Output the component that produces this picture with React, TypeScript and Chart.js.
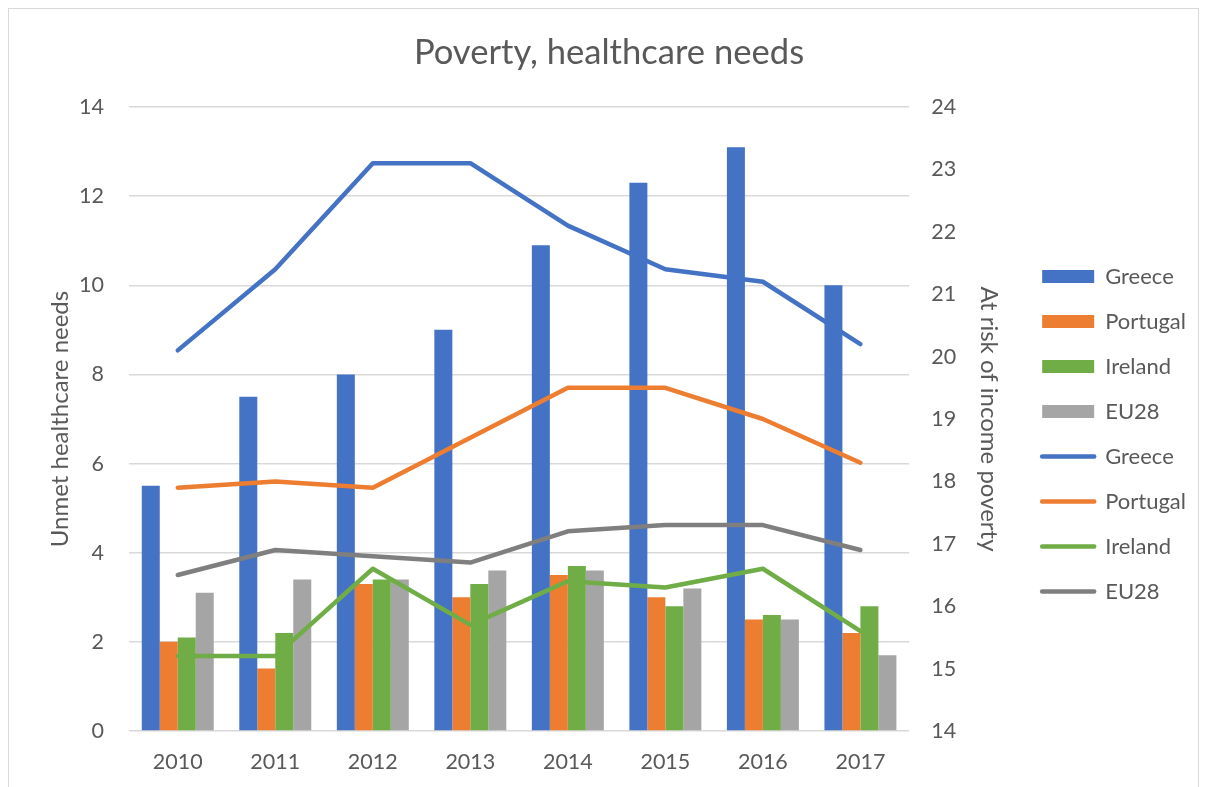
import React, { useEffect, useRef } from 'react';
import { Chart, registerables } from 'chart.js';

Chart.register(...registerables);

const years = ['2010', '2011', '2012', '2013', '2014', '2015', '2016', '2017'];

// Unmet healthcare needs (left axis, bars)
const greeceUnmet = [5.5, 7.5, 8.0, 9.0, 10.9, 12.3, 13.1, 10.0];
const portugalUnmet = [2.0, 1.4, 3.3, 3.0, 3.5, 3.0, 2.5, 2.2];
const irelandUnmet = [2.1, 2.2, 3.4, 3.3, 3.7, 2.8, 2.6, 2.8];
const eu28Unmet = [3.1, 3.4, 3.4, 3.6, 3.6, 3.2, 2.5, 1.7];

// At risk of income poverty (right axis, lines)
const greecePoverty = [20.1, 21.4, 23.1, 23.1, 22.1, 21.4, 21.2, 20.2];
const portugalPoverty = [17.9, 18.0, 17.9, 18.7, 19.5, 19.5, 19.0, 18.3];
const irelandPoverty = [15.2, 15.2, 16.6, 15.7, 16.4, 16.3, 16.6, 15.6];
const eu28Poverty = [16.5, 16.9, 16.8, 16.7, 17.2, 17.3, 17.3, 16.9];

const C_BLUE = '#4472C4';
const C_ORANGE = '#ED7D31';
const C_GREEN = '#70AD47';
const C_GRAYBAR = '#A5A5A5';
const C_GRAYLINE = '#7F7F7F';
const TEXT = '#595959';
const GRID = '#D9D9D9';

export default function App() {
  const canvasRef = useRef<HTMLCanvasElement | null>(null);

  useEffect(() => {
    if (!canvasRef.current) return;
    Chart.defaults.font.family = 'Lato';
    Chart.defaults.color = TEXT;

    const bar = (label: string, data: number[], color: string) => ({
      type: 'bar' as const,
      label,
      data,
      backgroundColor: color,
      borderColor: color,
      borderWidth: 0,
      yAxisID: 'y',
      order: 1,
      barPercentage: 1,
      categoryPercentage: 0.738,
    });
    const line = (label: string, data: number[], color: string) => ({
      type: 'line' as const,
      label,
      data,
      borderColor: color,
      backgroundColor: color,
      borderWidth: 4.5,
      borderCapStyle: 'round' as const,
      borderJoinStyle: 'round' as const,
      pointRadius: 0,
      pointHoverRadius: 0,
      tension: 0,
      fill: false,
      yAxisID: 'y1',
      order: 0,
    });

    const chart = new Chart(canvasRef.current, {
      data: {
        labels: years,
        datasets: [
          bar('Greece', greeceUnmet, C_BLUE),
          bar('Portugal', portugalUnmet, C_ORANGE),
          bar('Ireland', irelandUnmet, C_GREEN),
          bar('EU28', eu28Unmet, C_GRAYBAR),
          line('Greece', greecePoverty, C_BLUE),
          line('Portugal', portugalPoverty, C_ORANGE),
          line('Ireland', irelandPoverty, C_GREEN),
          line('EU28', eu28Poverty, C_GRAYLINE),
        ] as any,
      },
      options: {
        animation: false,
        responsive: true,
        maintainAspectRatio: false,
        layout: { padding: { left: 13, right: 2, top: 0, bottom: 3 } },
        plugins: {
          tooltip: { enabled: false },
          title: {
            display: true,
            text: 'Poverty, healthcare needs',
            color: TEXT,
            font: { size: 34.6, weight: 'normal' },
            padding: { top: 23.3, bottom: 33.2 },
          },
          legend: {
            position: 'right',
            align: 'center',
            title: { display: true, text: '', font: { size: 10 }, padding: { top: 0, bottom: 72 } },
            labels: {
              usePointStyle: true,
              pointStyleWidth: 52,
              boxHeight: 13,
              padding: 23,
              color: TEXT,
              font: { size: 22 },
              generateLabels: (chart: any) =>
                chart.data.datasets.map((ds: any, i: number) => ({
                  text: ds.label,
                  fillStyle: ds.backgroundColor,
                  strokeStyle: ds.borderColor,
                  lineWidth: ds.type === 'line' ? 4.5 : 0,
                  lineCap: 'round',
                  pointStyle: ds.type === 'line' ? 'line' : 'rect',
                  hidden: false,
                  datasetIndex: i,
                  fontColor: TEXT,
                })),
            },
          },
        },
        scales: {
          x: {
            grid: { display: false, drawTicks: false },
            border: { display: false },
            ticks: { padding: 18, font: { size: 21.5 }, color: TEXT },
            afterFit: (scale: any) => {
              scale.height = 44;
            },
          },
          y: {
            type: 'linear',
            position: 'left',
            min: 0,
            max: 14,
            ticks: { stepSize: 2, padding: 25, font: { size: 21.5 }, color: TEXT },
            grid: { color: GRID, lineWidth: 1.5, drawTicks: false },
            border: { display: false },
            title: {
              display: true,
              text: 'Unmet healthcare needs',
              color: TEXT,
              font: { size: 24 },
              padding: { top: 23.6, bottom: 5 },
            },
            afterFit: (scale: any) => {
              scale.width = 107;
            },
          },
          y1: {
            type: 'linear',
            position: 'right',
            min: 14,
            max: 24,
            ticks: { stepSize: 1, padding: 22, font: { size: 21.5 }, color: TEXT },
            grid: { display: false, drawTicks: false },
            border: { display: false },
            title: {
              display: true,
              text: 'At risk of income poverty',
              color: TEXT,
              font: { size: 24 },
              padding: { top: 16, bottom: 5 },
            },
            afterFit: (scale: any) => {
              scale.width = 110;
            },
          },
        },
      } as any,
    });

    return () => chart.destroy();
  }, []);

  return (
    <div
      style={{
        width: 1191,
        height: 779,
        borderTop: '1px solid #D9D9D9',
        borderLeft: '1px solid #D9D9D9',
        borderRight: '1px solid #D9D9D9',
        boxSizing: 'border-box',
        background: '#fff',
      }}
    >
      <div style={{ position: 'relative', width: 1189, height: 769 }}>
        <canvas ref={canvasRef} />
      </div>
    </div>
  );
}
